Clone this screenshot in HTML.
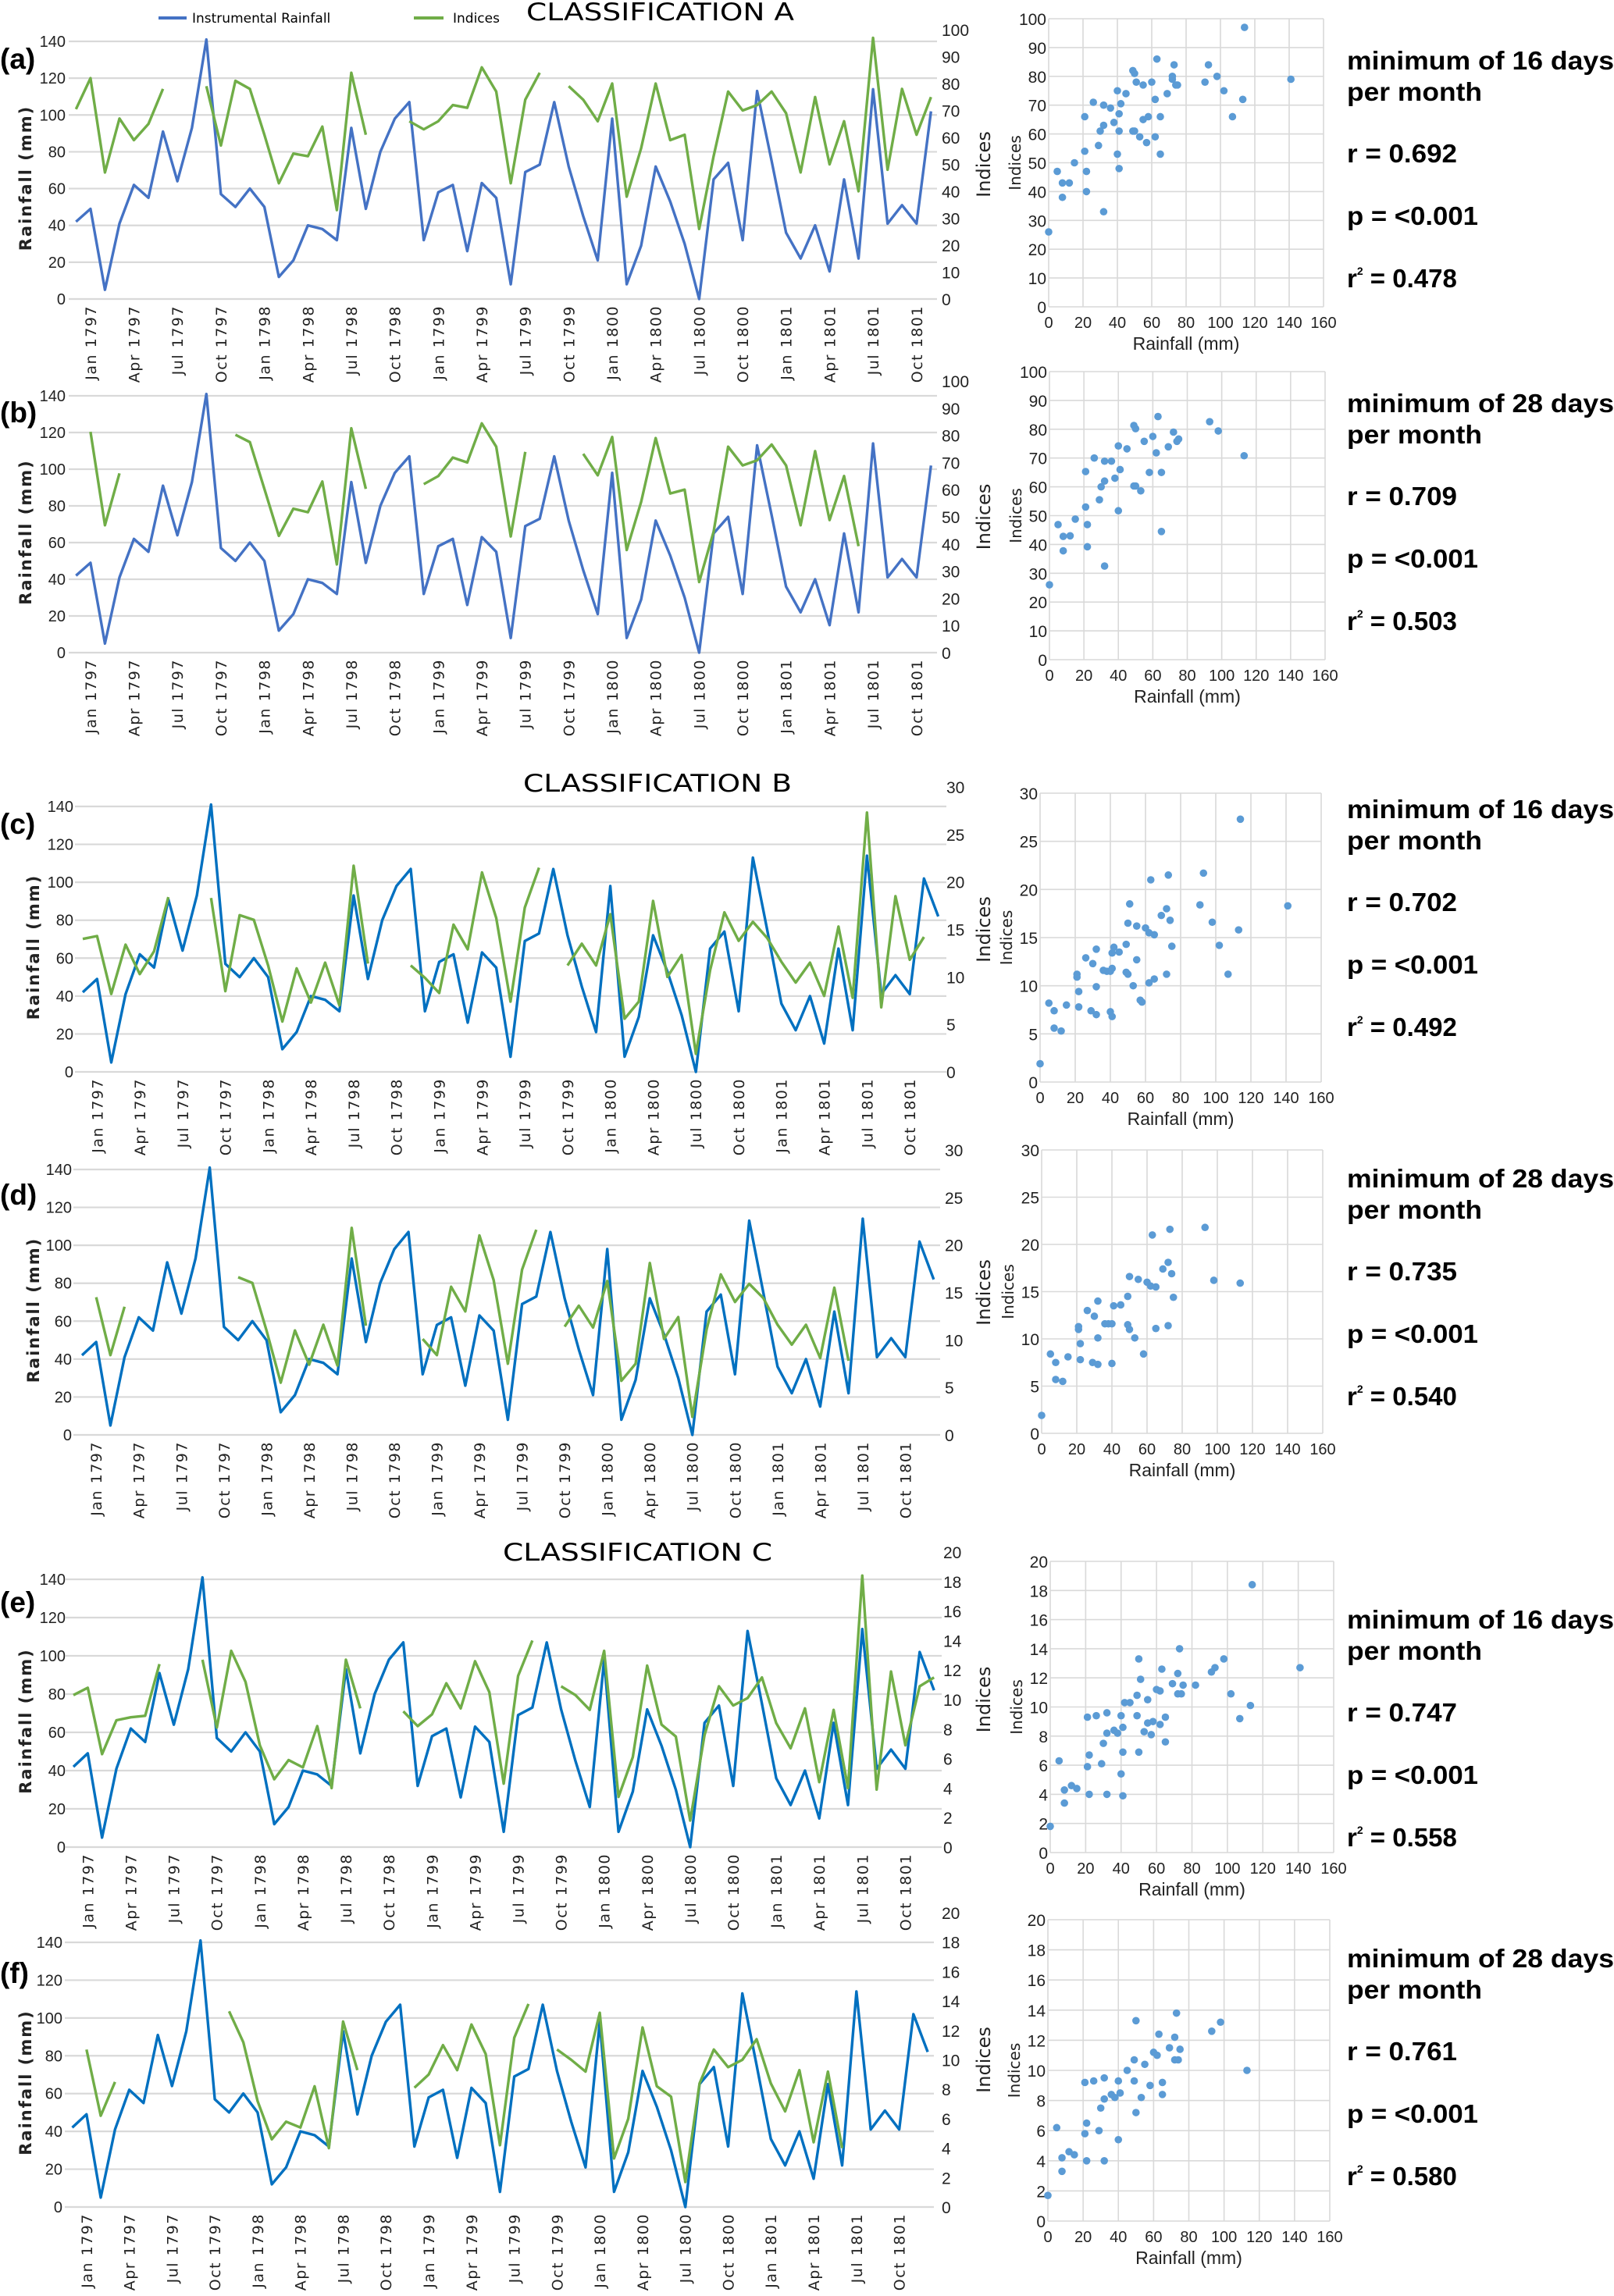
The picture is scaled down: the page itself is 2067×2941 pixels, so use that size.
<!DOCTYPE html>
<html><head><meta charset="utf-8">
<style>
html,body{margin:0;padding:0;background:#fff;}
svg{display:block;}
</style></head>
<body>
<svg id="fig" xmlns="http://www.w3.org/2000/svg" width="2067" height="2941" viewBox="0 0 2067 2941">
<rect x="0" y="0" width="2067" height="2941" fill="#fff"/>
<g>
  <line x1="203" y1="23" x2="239" y2="23" stroke="#4472C4" stroke-width="4"/>
  <text x="246" y="29" font-family="DejaVu Sans, sans-serif" font-size="17">Instrumental Rainfall</text>
  <line x1="530" y1="23" x2="568" y2="23" stroke="#70AD47" stroke-width="4"/>
  <text x="580" y="29" font-family="DejaVu Sans, sans-serif" font-size="17">Indices</text>
</g>
<text x="674" y="26" font-family="DejaVu Sans, sans-serif" font-size="31" textLength="343" lengthAdjust="spacingAndGlyphs">CLASSIFICATION A</text>
<text x="670" y="1014" font-family="DejaVu Sans, sans-serif" font-size="31" textLength="344" lengthAdjust="spacingAndGlyphs">CLASSIFICATION B</text>
<text x="644" y="1999" font-family="DejaVu Sans, sans-serif" font-size="31" textLength="345" lengthAdjust="spacingAndGlyphs">CLASSIFICATION C</text>
</svg>
<script>
// ---- data ----
const monthLabels = ["Jan 1797","Apr 1797","Jul 1797","Oct 1797","Jan 1798","Apr 1798","Jul 1798","Oct 1798","Jan 1799","Apr 1799","Jul 1799","Oct 1799","Jan 1800","Apr 1800","Jul 1800","Oct 1800","Jan 1801","Apr 1801","Jul 1801","Oct 1801"];
const rainfall60 = [42,49,5,41,62,55,91,64,93,141,57,50,60,50,12,21,40,38,32,93,49,80,98,107,32,58,62,26,63,55,8,69,73,107,72,45,21,98,8,29,72,53,30,0,65,74,32,113,75,36,22,40,15,65,22,114,41,51,41,102];
const rainfall61 = [42,49,5,41,62,55,91,64,93,141,57,50,60,50,12,21,40,38,32,93,49,80,98,107,32,58,62,26,63,55,8,69,73,107,72,45,21,98,8,29,72,53,30,0,65,74,32,113,75,36,22,40,15,65,22,114,41,51,41,102,82];
const indicesA = [70.5,82,47,67,59,65,78,null,null,79,57,81,78,61,43,54,53,64,33,84,61,null,null,66,63,66,72,71,86,77,43,74,84,null,79,74,66,80,38,56,80,59,61,26,53,77,70,72,77,69,47,75,50,66,40,97,48,78,61,75];
const indicesB = [null,81.3,46.9,66,null,null,null,null,null,null,null,80.2,77.5,60.3,43,53,51.7,63,32.5,82.6,60.3,null,null,null,62,65,71.8,70,84.4,75.8,42.8,73.9,null,null,null,73.2,65.3,79.4,37.8,55.5,79,58.6,60,26,44.5,75.8,68.9,70.8,76.6,68.9,46.9,74.2,48.8,65,39.2,null,null,null,null,null];
const indicesC = [14.0,14.3,8.2,13.4,10.3,12.7,18.4,null,null,18.3,8.5,16.5,16.0,11.2,5.3,10.9,7.3,11.5,7.0,21.7,11.4,null,null,11.2,9.9,8.3,15.5,12.9,21.0,16.2,7.4,17.3,21.5,null,11.2,13.5,11.2,16.6,5.6,7.4,18.0,10.0,12.3,1.9,10.7,16.8,13.8,15.8,14.1,11.6,9.4,11.5,8.0,15.3,7.8,27.3,6.8,18.5,11.8,14.2,null];
const indicesD = [null,14.5,8.4,13.5,null,null,null,null,null,null,null,16.6,16.0,11.0,5.5,11.0,7.4,11.6,7.3,21.8,11.5,null,null,null,10.1,8.4,15.6,13.0,21.0,16.3,7.5,17.4,21.6,null,11.4,13.6,11.3,16.2,5.7,7.5,18.1,10.1,12.4,1.9,11.1,16.9,14.0,15.9,14.4,11.6,9.5,11.6,8.1,15.5,7.8,null,null,null,null,null,null];
const indicesE = [10.3,10.8,6.3,8.6,8.8,8.9,12.4,null,null,12.7,8.1,13.3,11.2,6.9,4.6,5.9,5.4,8.2,4.0,12.7,9.4,null,null,9.2,8.2,9.0,11.1,9.4,12.6,10.5,4.3,11.6,14.0,null,10.9,10.3,9.3,13.3,3.4,6.1,12.3,8.3,7.5,1.8,7.6,10.9,9.6,10.1,11.5,8.4,6.7,9.4,4.4,9.3,4.0,18.4,3.9,11.9,6.9,10.9,11.5];
const indicesF = [null,10.7,6.2,8.5,null,null,null,null,null,null,null,13.3,11.2,7.2,4.6,5.8,5.4,8.2,4.0,12.6,9.3,null,null,null,8.1,9.0,11.0,9.3,12.4,10.4,4.2,11.5,13.8,null,10.7,10.0,9.2,13.2,3.3,6.0,12.2,8.2,7.5,1.7,8.4,10.7,9.5,10.0,11.4,8.4,6.5,9.3,4.4,9.2,4.0,null,null,null,null,null,null];
const rainTicks = [0,20,40,60,80,100,120,140];
const scatterXTicks = [0,20,40,60,80,100,120,140,160];
const minDaysText = ["minimum of 16 days","minimum of 28 days","minimum of 16 days","minimum of 28 days","minimum of 16 days","minimum of 28 days"];
const rValues = ["0.692","0.709","0.702","0.735","0.747","0.761"];
const pValues = ["<0.001","<0.001","<0.001","<0.001","<0.001","<0.001"];
const r2Values = ["0.478","0.503","0.492","0.540","0.558","0.580"];

// ---- layout (not data) ----
const panels = [
 {id:'a', rain:rainfall60, idx:indicesA, x0:97.3, step:18.56, lt:53, bot:383, rt:38, rmax:100, rstep:10, gx:[88,1200], ll:84, rl:1206, blue:'#4472C4', lab:75,
  s:{x0:1343,x1:1695,top:24,bot:393}, t:78},
 {id:'b', rain:rainfall60, idx:indicesB, x0:97.3, step:18.56, lt:507, bot:836, rt:488, rmax:100, rstep:10, gx:[88,1200], ll:84, rl:1206, blue:'#4472C4', lab:528,
  s:{x0:1344,x1:1697,top:476,bot:845}, t:517},
 {id:'c', rain:rainfall61, idx:indicesC, x0:106, step:18.26, lt:1033, bot:1373, rt:1008, rmax:30, rstep:5, gx:[96,1212], ll:94, rl:1212, blue:'#0070C0', lab:1055,
  s:{x0:1332,x1:1692,top:1016,bot:1386}, t:1037},
 {id:'d', rain:rainfall61, idx:indicesD, x0:105, step:18.18, lt:1498, bot:1838, rt:1473, rmax:30, rstep:5, gx:[94,1204], ll:92, rl:1210, blue:'#0070C0', lab:1530,
  s:{x0:1334,x1:1694,top:1473,bot:1836}, t:1510},
 {id:'e', rain:rainfall61, idx:indicesE, x0:94, step:18.37, lt:2023, bot:2366, rt:1988, rmax:20, rstep:2, gx:[84,1206], ll:84, rl:1208, blue:'#0070C0', lab:2052,
  s:{x0:1345,x1:1708,top:2000,bot:2373}, t:2075},
 {id:'f', rain:rainfall61, idx:indicesF, x0:92.5, step:18.26, lt:2488, bot:2827, rt:2450, rmax:20, rstep:2, gx:[83,1196], ll:80, rl:1206, blue:'#0070C0', lab:2527,
  s:{x0:1342,x1:1703,top:2459,bot:2845}, t:2509}
];

const NS = 'http://www.w3.org/2000/svg';
const svg = document.getElementById('fig');
function mk(tag, attrs, parent, txt){
  const e = document.createElementNS(NS, tag);
  for (const k in attrs) e.setAttribute(k, attrs[k]);
  if (txt !== undefined) e.textContent = txt;
  (parent || svg).appendChild(e);
  return e;
}
function pathFrom(vals, xf, yf){
  let d = '', pen = false;
  vals.forEach((v,i)=>{
    if (v === null || v === undefined){ pen = false; return; }
    d += (pen ? 'L' : 'M') + xf(i).toFixed(1) + ' ' + yf(v).toFixed(1) + ' ';
    pen = true;
  });
  return d;
}

panels.forEach((p, pi)=>{
  const g = mk('g', {});
  
  
  const yL = v => p.bot - (v/140)*(p.bot - p.lt);
  const yR = v => p.bot - (v/p.rmax)*(p.bot - p.rt);
  const xI = i => p.x0 + i*p.step;
  // gridlines + left ticks
  rainTicks.forEach(t=>{
    const ln = mk('line', {x1:p.gx[0], x2:p.gx[1], y1:yL(t), y2:yL(t), stroke:'#d9d9d9', 'stroke-width':2.2}, g);
    
    
    const tx = mk('text', {x:p.ll, y:yL(t)+7, 'text-anchor':'end', 'font-family':'Liberation Sans, sans-serif', 'font-size':20, fill:'#222'}, g, String(t));
    
    
  });
  // right ticks
  for (let t=0; t<=p.rmax+0.001; t+=p.rstep){
    const tx = mk('text', {x:p.rl, y:yR(t)+8, 'font-family':'Liberation Sans, sans-serif', 'font-size':21, fill:'#222'}, g, String(t));
    
    
  }
  // x labels
  monthLabels.forEach((lab,k)=>{
    const x = xI(1+3*k) + 7, y = p.bot + 8;
    const tx = mk('text', {x:x, y:y, transform:`rotate(-90 ${x} ${y})`, 'text-anchor':'end', 'font-family':'DejaVu Sans, sans-serif', 'font-size':19, 'letter-spacing':1.5, fill:'#222'}, g, lab);
    
    
  });
  // y title
  const yc = (p.lt + p.bot)/2 + 10, xc = (pi===2||pi===3) ? 42 : 32;
  const yt = mk('text', {x:xc+8, y:yc, transform:`rotate(-90 ${xc+8} ${yc})`, 'text-anchor':'middle', 'font-family':'DejaVu Sans, sans-serif', 'font-weight':'bold', 'font-size':21, 'letter-spacing':2, fill:'#222'}, g, 'Rainfall (mm)');
  
  
  const rtY = (p.rt + p.bot)/2;
  const rt = mk('text', {x:1268, y:rtY, transform:`rotate(-90 1268 ${rtY})`, 'text-anchor':'middle', 'font-family':'DejaVu Sans, sans-serif', 'font-size':24, fill:'#222'}, g, 'Indices');
  
  
  // series
  const bl = mk('path', {d:pathFrom(p.rain, xI, yL), fill:'none', stroke:p.blue, 'stroke-width':3.4, 'stroke-linejoin':'round'}, g);
  
  
  const gl = mk('path', {d:pathFrom(p.idx, xI, yR), fill:'none', stroke:'#70AD47', 'stroke-width':3.4, 'stroke-linejoin':'round'}, g);
  
  
  // panel label
  const pl = mk('text', {x:0, y:p.lab+13, 'font-family':'Liberation Sans, sans-serif', 'font-weight':'bold', 'font-size':37, fill:'#000'}, g, '(' + p.id + ')');
  
  

  // ---- scatter ----
  const s = p.s;
  const sg = mk('g', {});
  
  
  const sx = v => s.x0 + (v/160)*(s.x1 - s.x0);
  const sy = v => s.bot - (v/p.rmax)*(s.bot - s.top);
  scatterXTicks.forEach(t=>{
    const ln = mk('line', {x1:sx(t), x2:sx(t), y1:s.top, y2:s.bot, stroke:'#d9d9d9', 'stroke-width':1.6}, sg);
    
    
    const tx = mk('text', {x:sx(t), y:s.bot+27, 'text-anchor':'middle', 'font-family':'Liberation Sans, sans-serif', 'font-size':20, fill:'#222'}, sg, String(t));
    
    
  });
  for (let t=0; t<=p.rmax+0.001; t+=p.rstep){
    const ln = mk('line', {x1:s.x0, x2:s.x1, y1:sy(t), y2:sy(t), stroke:'#d9d9d9', 'stroke-width':1.6}, sg);
    
    
    const tx = mk('text', {x:s.x0-3, y:sy(t)+8, 'text-anchor':'end', 'font-family':'Liberation Sans, sans-serif', 'font-size':21, fill:'#222'}, sg, String(t));
    
    
  }
  const xt = mk('text', {x:(s.x0+s.x1)/2, y:s.bot+55, 'text-anchor':'middle', 'font-family':'Liberation Sans, sans-serif', 'font-size':23, fill:'#222'}, sg, 'Rainfall (mm)');
  
  
  const syc = (s.top + s.bot)/2, sxc = s.x0 - 36;
  const st = mk('text', {x:sxc, y:syc, transform:`rotate(-90 ${sxc} ${syc})`, 'text-anchor':'middle', 'font-family':'DejaVu Sans, sans-serif', 'font-size':20, fill:'#222'}, sg, 'Indices');
  
  
  p.idx.forEach((v,i)=>{
    if (v === null || p.rain[i] === undefined) return;
    const c = mk('circle', {cx:sx(p.rain[i]), cy:sy(v), r:4.8, fill:'#5B9BD5'}, sg);
    
    
  });

  // ---- stats text ----
  const tg = mk('g', {'font-family':'Liberation Sans, sans-serif', 'font-weight':'bold', 'font-size':33, fill:'#000'});
  
  
  const b = p.t + 11;
  const t1 = mk('text', {x:1725, y:b, textLength:342, lengthAdjust:'spacingAndGlyphs'}, tg, minDaysText[pi]);
  
  
  const t2 = mk('text', {x:1725, y:b+40, textLength:173, lengthAdjust:'spacingAndGlyphs'}, tg, 'per month');
  
  
  const t3 = mk('text', {x:1725, y:b+119, textLength:141, lengthAdjust:'spacingAndGlyphs'}, tg, 'r = ' + rValues[pi]);
  
  
  const t4 = mk('text', {x:1725, y:b+199, textLength:168, lengthAdjust:'spacingAndGlyphs'}, tg, 'p = ' + pValues[pi]);
  
  
  const t5 = mk('text', {x:1725, y:b+279}, tg);
  
  
  mk('tspan', {}, t5, 'r');
  mk('tspan', {'font-size':14, dy:-16}, t5, '2');
  mk('tspan', {dy:16}, t5, ' = ' + r2Values[pi]);
});
</script>
</body></html>
